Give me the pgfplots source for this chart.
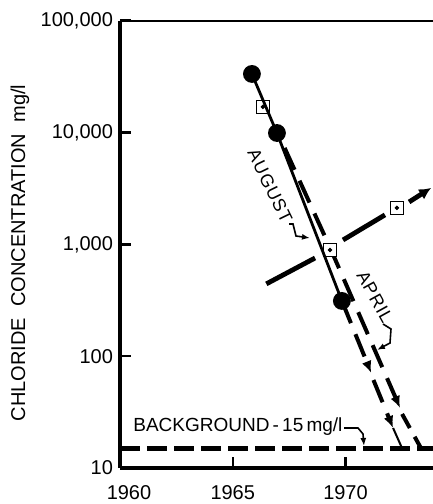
\documentclass[border=0pt]{standalone}
\usepackage{fontspec}
\setmainfont{Liberation Sans}
\usepackage{pgfplots}
\pgfplotsset{compat=1.18}
\usetikzlibrary{arrows.meta}

\begin{document}
\begin{tikzpicture}[x=0.5pt, y=0.5pt, font=\fontsize{9.5}{11}\selectfont]
\begin{axis}[
    at={(0,0)}, anchor=south west,
    scale only axis,
    width=156.5pt, height=223.65pt,
    xmin=1960, xmax=1973.88,
    ymode=log, ymin=10, ymax=100000,
    axis x line*=bottom, axis y line*=left,
    axis line style={-, line width=1.6pt},
    xtick={1960,1965,1970},
    xticklabels={\hspace*{9pt}1960,1965,1970},
    ytick={10,100,1000,10000,100000},
    yticklabels={10,100,{1,000},{10,000},{100,000}},
    yminorticks=false,
    tick align=inside,
    major tick length=5.5pt,
    tick style={line width=1.2pt, black},
    /pgf/number format/assume math mode=true,
    tick label style={font=\fontsize{10}{12}\selectfont},
    xticklabel style={yshift=-5pt},
    clip mode=individual,
]

% background level, 15 mg/l
\addplot[black, line width=2.2pt, dash pattern=on 10pt off 3.5pt]
    coordinates {(1960,15) (1973.88,15)};

% cross line through the April points
\addplot[black, line width=2.4pt] coordinates {(1966.49,443) (1968.65,755)};
\addplot[black, line width=2.4pt] coordinates {(1969.89,1094) (1971.75,1833)};
\addplot[black, line width=2.4pt, -{Latex[length=6pt,width=6pt]}]
    coordinates {(1972.82,2393) (1973.8,3200)};

% April extrapolation
\addplot[black, line width=2pt, dash pattern=on 12pt off 6pt, -{Latex[length=6pt,width=5pt]}]
    coordinates {(1967.30,7280) (1969.36,890) (1972.42,34.4)};
\addplot[black, line width=2pt, dash pattern=on 8pt off 5pt]
    coordinates {(1972.51,30.4) (1973.35,15)};

% August extrapolation
\addplot[black, line width=2pt, dash pattern=on 12pt off 6pt, -{Latex[length=6pt,width=5pt]}]
    coordinates {(1969.84,312) (1971.14,70.8)};
\addplot[black, line width=2pt, dash pattern=on 12pt off 6pt, -{Latex[length=6pt,width=5pt]}]
    coordinates {(1971.24,61.2) (1972.11,22.8)};
\addplot[black, line width=1pt] coordinates {(1972.11,22.8) (1972.51,15)};

% April samples
\addplot[only marks, mark=square*, mark size=3.25pt,
    mark options={fill=white, draw=black, line width=0.8pt}]
    coordinates {(1966.34,16950) (1969.31,890) (1972.28,2120)};
\addplot[only marks, mark=*, mark size=0.9pt, black]
    coordinates {(1966.34,16950) (1969.31,890) (1972.28,2120)};

% August samples
\addplot[black, line width=1.4pt, mark=*, mark size=3.75pt]
    coordinates {(1965.85,33400) (1966.96,9900) (1969.84,312)};

\end{axis}

% top border, no right border
\draw[line width=1pt] (0,447.3) -- (313,447.3);

\node[rotate=90, font=\fontsize{10}{12}\selectfont] at (-100,215) {CHLORIDE\ \ CONCENTRATION\ \ mg/l};

\node[anchor=base west, inner sep=0] at (13,36) {BACKGROUND\,-\,15\,mg/l};
\draw[line width=0.8pt, -{Latex[length=4pt,width=3pt]}] (224,40) -- (238,40) -- (243,34) -- (244,22);

\node[rotate=-64, inner sep=0, font=\fontsize{9}{11}\selectfont\addfontfeature{LetterSpace=5}] at (150,282) {AUGUST};
\draw[line width=0.8pt, -{Latex[length=4pt,width=3pt]}] (169,244) -- (173,244) -- (176,232) -- (190,230);

\node[rotate=-61, inner sep=0, font=\fontsize{9}{11}\selectfont\addfontfeature{LetterSpace=5}] at (255,171) {APRIL};
\draw[line width=0.8pt, -{Latex[length=4pt,width=3pt]}] (263,144) -- (271,139) -- (270,125) -- (257,118);

\pgfresetboundingbox
\path[use as bounding box] (-120,-36) rectangle (313,468);
\end{tikzpicture}
\end{document}
